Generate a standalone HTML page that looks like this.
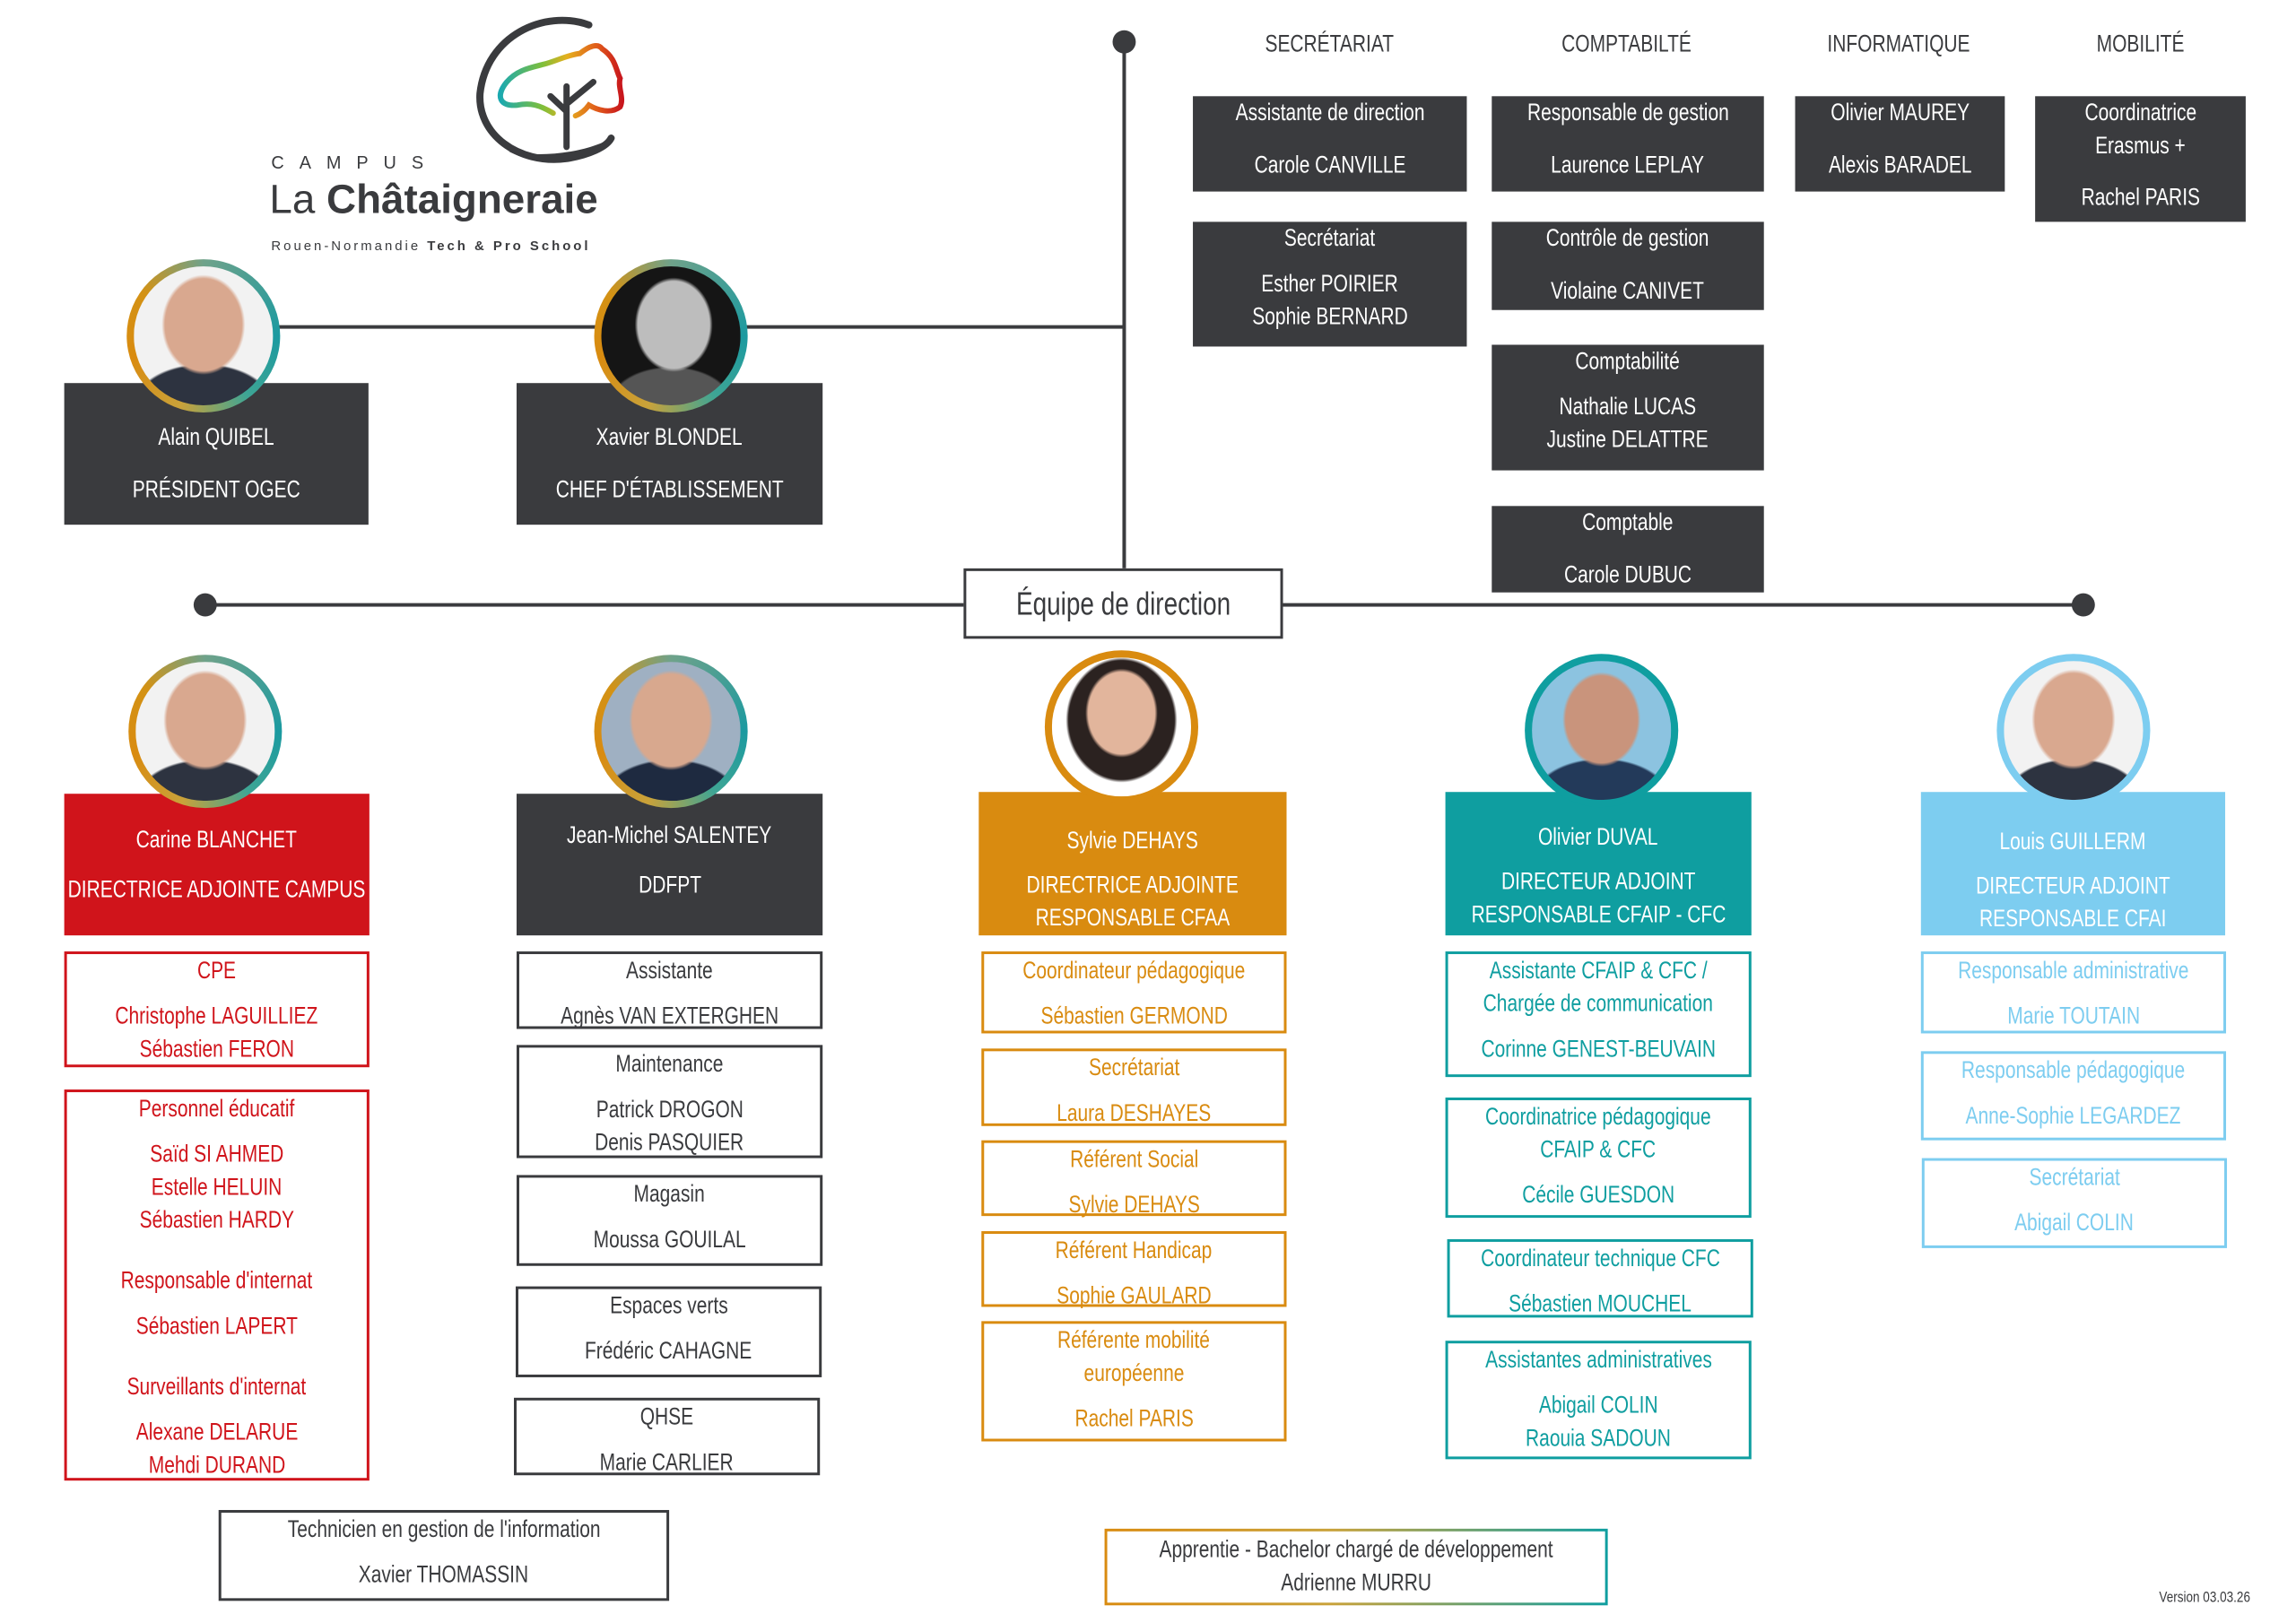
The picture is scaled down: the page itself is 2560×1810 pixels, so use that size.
<!DOCTYPE html>
<html><head><meta charset="utf-8">
<style>
*{margin:0;padding:0;box-sizing:border-box}
body{width:2560px;height:1810px;background:#fff;position:relative;overflow:hidden;font-family:"Liberation Sans",sans-serif;color:#3a3b3e}
#w{position:absolute;left:0;top:0;width:2560px;height:1810px;transform:scale(0.9948,0.9935);transform-origin:0 0}
.b{position:absolute;text-align:center}
.l{height:37px;line-height:37px;display:flex;justify-content:center;white-space:nowrap;font-size:27px}
.l span{display:inline-block;transform:scaleX(.78)}
.g{height:14px}
.dk{background:#3a3b3e;color:#fff}
.hl{position:absolute;background:#3a3b3e}
.dot{position:absolute;width:26px;height:26px;border-radius:50%;background:#3a3b3e}
.ring{position:absolute;width:172px;height:172px;border-radius:50%;padding:8px}
.ring div{width:100%;height:100%;border-radius:50%}
.grad{background:conic-gradient(from 0deg,#6fa28a,#1b9aa0 25%,#3ea595 40%,#c9a23a 55%,#d98b10 70%,#d39215 85%,#6fa28a)}
.face{background:radial-gradient(ellipse 30% 36% at 50% 42%,#d9a88f 0 92%,transparent 100%),radial-gradient(ellipse 50% 30% at 50% 100%,#2d3340 0 95%,transparent 100%),#f2f2f2}
.red{border:3px solid #d0141b;color:#d0141b}
.blk{border:3px solid #3a3b3e;color:#3a3b3e}
.org{border:3px solid #d98b10;color:#d98b10}
.tel{border:3px solid #0f9ea0;color:#0f9ea0}
.lb{border:3px solid #7dcdf0;color:#7dcdf0}
.hd{position:absolute;font-size:27px;white-space:nowrap;transform:translateX(-50%) scaleX(.78);color:#3a3b3e}
</style></head><body><div id="w">

<svg style="position:absolute;left:500px;top:0" width="240" height="200" viewBox="0 0 240 200">
<path d="M160 28 C110 10 45 40 38 105 C35 150 80 185 135 178 C160 174 180 165 185 155" fill="none" stroke="#3a3b3e" stroke-width="8" stroke-linecap="round"/>
<path d="M70 170 C110 190 160 180 185 155 C160 170 110 178 70 170Z" fill="#3a3b3e"/>
<defs><linearGradient id="tg" x1="0" x2="1"><stop offset="0" stop-color="#1ba9b0"/><stop offset=".35" stop-color="#7fbf3a"/><stop offset=".55" stop-color="#e5b01e"/><stop offset=".8" stop-color="#e05a1a"/><stop offset="1" stop-color="#c8161d"/></linearGradient></defs>
<path d="M120 127 C105 118 95 115 80 118 C60 120 55 108 68 92 C80 78 95 76 110 72 C125 68 135 62 150 60 C160 52 170 48 175 55 C190 65 190 78 195 88 C192 98 200 110 195 120 C185 128 170 124 160 118 C155 125 150 128 145 130" fill="none" stroke="url(#tg)" stroke-width="6" stroke-linecap="round"/>
<path d="M135 165 L135 97 M135 125 L117 108 M137 115 L165 92" stroke="#3a3b3e" stroke-width="7" stroke-linecap="round" fill="none"/>
</svg>
<div style="position:absolute;left:304px;top:172px;font-size:20px;letter-spacing:17px">CAMPUS</div>
<div style="position:absolute;left:302px;top:196px;font-size:46px;white-space:nowrap">La <b>Châtaigneraie</b></div>
<div style="position:absolute;left:304px;top:268px;font-size:15px;letter-spacing:3px;white-space:nowrap">Rouen-Normandie <b>Tech &amp; Pro School</b></div>

<div class="hl" style="left:1258px;top:48px;width:4px;height:590px"></div>
<div class="dot" style="left:1247px;top:34px"></div>
<div class="hl" style="left:300px;top:365px;width:960px;height:4px"></div>
<div class="hl" style="left:230px;top:677px;width:2105px;height:4px"></div>
<div class="dot" style="left:217px;top:666px"></div>
<div class="dot" style="left:2322px;top:666px"></div>
<div class="b" style="left:1080px;top:638px;width:358px;height:79px;background:#fff;border:3px solid #3a3b3e;display:flex;align-items:center;justify-content:center"><span style="font-size:36px;display:inline-block;transform:scaleX(.78);white-space:nowrap">Équipe de direction</span></div>

<div class="hd" style="left:1490px;top:34px">SECRÉTARIAT</div>
<div class="hd" style="left:1823px;top:34px">COMPTABILTÉ</div>
<div class="hd" style="left:2128px;top:34px">INFORMATIQUE</div>
<div class="hd" style="left:2399px;top:34px">MOBILITÉ</div>

<div class="b dk" style="left:1337px;top:108px;width:307px;height:107px"><div class="l"><span>Assistante de direction</span></div><div style="height:22px"></div><div class="l"><span>Carole CANVILLE</span></div></div>
<div class="b dk" style="left:1337px;top:249px;width:307px;height:140px"><div class="l"><span>Secrétariat</span></div><div class="g"></div><div class="l"><span>Esther POIRIER</span></div><div class="l"><span>Sophie BERNARD</span></div></div>
<div class="b dk" style="left:1672px;top:108px;width:305px;height:107px"><div class="l"><span>Responsable de gestion</span></div><div style="height:22px"></div><div class="l"><span>Laurence LEPLAY</span></div></div>
<div class="b dk" style="left:1672px;top:249px;width:305px;height:99px"><div class="l"><span>Contrôle de gestion</span></div><div style="height:22px"></div><div class="l"><span>Violaine CANIVET</span></div></div>
<div class="b dk" style="left:1672px;top:387px;width:305px;height:141px"><div class="l"><span>Comptabilité</span></div><div class="g"></div><div class="l"><span>Nathalie LUCAS</span></div><div class="l"><span>Justine DELATTRE</span></div></div>
<div class="b dk" style="left:1672px;top:568px;width:305px;height:97px"><div class="l"><span>Comptable</span></div><div style="height:22px"></div><div class="l"><span>Carole DUBUC</span></div></div>
<div class="b dk" style="left:2012px;top:108px;width:235px;height:107px"><div class="l"><span>Olivier MAUREY</span></div><div style="height:22px"></div><div class="l"><span>Alexis BARADEL</span></div></div>
<div class="b dk" style="left:2281px;top:108px;width:236px;height:141px"><div class="l"><span>Coordinatrice</span></div><div class="l"><span>Erasmus +</span></div><div style="height:21px"></div><div class="l"><span>Rachel PARIS</span></div></div>

<div class="b dk" style="left:72px;top:430px;width:341px;height:159px;padding-top:42px"><div class="l"><span>Alain QUIBEL</span></div><div style="height:22px"></div><div class="l"><span>PRÉSIDENT OGEC</span></div></div>
<div class="ring grad" style="left:142px;top:291px"><div class="face"></div></div>
<div class="b dk" style="left:579px;top:430px;width:343px;height:159px;padding-top:42px"><div class="l"><span>Xavier BLONDEL</span></div><div style="height:22px"></div><div class="l"><span>CHEF D'ÉTABLISSEMENT</span></div></div>
<div class="ring grad" style="left:666px;top:291px"><div style="background:radial-gradient(ellipse 28% 34% at 52% 42%,#bdbdbd 0 92%,transparent 100%),radial-gradient(ellipse 45% 28% at 50% 100%,#555 0 95%,transparent 100%),#151515"></div></div>

<div class="b" style="left:72px;top:891px;width:342px;height:159px;background:#d0141b;color:#fff;padding-top:33px"><div class="l"><span>Carine BLANCHET</span></div><div class="g" style="height:19px"></div><div class="l"><span>DIRECTRICE ADJOINTE CAMPUS</span></div></div>
<div class="ring grad" style="left:144px;top:735px"><div class="face"></div></div>
<div class="b dk" style="left:579px;top:891px;width:343px;height:159px;padding-top:28px"><div class="l"><span>Jean-Michel SALENTEY</span></div><div class="g" style="height:19px"></div><div class="l"><span>DDFPT</span></div></div>
<div class="ring grad" style="left:666px;top:735px"><div class="face" style="background:radial-gradient(ellipse 30% 36% at 50% 42%,#d8a88e 0 92%,transparent 100%),radial-gradient(ellipse 50% 30% at 50% 100%,#1e2a40 0 95%,transparent 100%),#9fb0c2"></div></div>
<div class="b" style="left:1097px;top:889px;width:345px;height:161px;background:#d98b10;color:#fff;padding-top:36px"><div class="l"><span>Sylvie DEHAYS</span></div><div class="g" style="height:13px"></div><div class="l"><span>DIRECTRICE ADJOINTE</span></div><div class="l"><span>RESPONSABLE CFAA</span></div></div>
<div class="ring" style="left:1171px;top:730px;background:#d98b10"><div class="face" style="background:radial-gradient(ellipse 26% 32% at 50% 40%,#e2b59c 0 92%,transparent 100%),radial-gradient(ellipse 40% 45% at 50% 45%,#2b2220 0 95%,transparent 100%),#fff"></div></div>
<div class="b" style="left:1620px;top:889px;width:343px;height:161px;background:#0f9ea0;color:#fff;padding-top:32px"><div class="l"><span>Olivier DUVAL</span></div><div class="g" style="height:13px"></div><div class="l"><span>DIRECTEUR ADJOINT</span></div><div class="l"><span>RESPONSABLE CFAIP - CFC</span></div></div>
<div class="ring" style="left:1709px;top:734px;background:#0f9ea0"><div class="face" style="background:radial-gradient(ellipse 28% 34% at 50% 42%,#c9947c 0 92%,transparent 100%),radial-gradient(ellipse 50% 30% at 50% 100%,#233a5a 0 95%,transparent 100%),#8cc3e0"></div></div>
<div class="b" style="left:2153px;top:889px;width:341px;height:161px;background:#7dcdf0;color:#fff;padding-top:37px"><div class="l"><span>Louis GUILLERM</span></div><div class="g" style="height:13px"></div><div class="l"><span>DIRECTEUR ADJOINT</span></div><div class="l"><span>RESPONSABLE CFAI</span></div></div>
<div class="ring" style="left:2238px;top:734px;background:#7dcdf0"><div class="face"></div></div>

<div class="b red" style="left:72px;top:1068px;width:342px;height:130px"><div class="l"><span>CPE</span></div><div class="g"></div><div class="l"><span>Christophe LAGUILLIEZ</span></div><div class="l"><span>Sébastien FERON</span></div></div>
<div class="b red" style="left:72px;top:1223px;width:342px;height:439px"><div class="l"><span>Personnel éducatif</span></div><div class="g"></div><div class="l"><span>Saïd SI AHMED</span></div><div class="l"><span>Estelle HELUIN</span></div><div class="l"><span>Sébastien HARDY</span></div><div style="height:31px"></div><div class="l"><span>Responsable d'internat</span></div><div class="g"></div><div class="l"><span>Sébastien LAPERT</span></div><div style="height:31px"></div><div class="l"><span>Surveillants d'internat</span></div><div class="g"></div><div class="l"><span>Alexane DELARUE</span></div><div class="l"><span>Mehdi DURAND</span></div></div>

<div class="b blk" style="left:579px;top:1068px;width:343px;height:87px"><div class="l"><span>Assistante</span></div><div class="g"></div><div class="l"><span>Agnès VAN EXTERGHEN</span></div></div>
<div class="b blk" style="left:579px;top:1173px;width:343px;height:127px"><div class="l"><span>Maintenance</span></div><div class="g"></div><div class="l"><span>Patrick DROGON</span></div><div class="l"><span>Denis PASQUIER</span></div></div>
<div class="b blk" style="left:579px;top:1319px;width:343px;height:102px"><div class="l"><span>Magasin</span></div><div class="g"></div><div class="l"><span>Moussa GOUILAL</span></div></div>
<div class="b blk" style="left:578px;top:1444px;width:343px;height:102px"><div class="l"><span>Espaces verts</span></div><div class="g"></div><div class="l"><span>Frédéric CAHAGNE</span></div></div>
<div class="b blk" style="left:576px;top:1569px;width:343px;height:87px"><div class="l"><span>QHSE</span></div><div class="g"></div><div class="l"><span>Marie CARLIER</span></div></div>
<div class="b blk" style="left:245px;top:1695px;width:505px;height:102px"><div class="l"><span>Technicien en gestion de l'information</span></div><div class="g"></div><div class="l"><span>Xavier THOMASSIN</span></div></div>

<div class="b org" style="left:1100px;top:1068px;width:342px;height:92px"><div class="l"><span>Coordinateur pédagogique</span></div><div class="g"></div><div class="l"><span>Sébastien GERMOND</span></div></div>
<div class="b org" style="left:1100px;top:1177px;width:342px;height:87px"><div class="l"><span>Secrétariat</span></div><div class="g"></div><div class="l"><span>Laura DESHAYES</span></div></div>
<div class="b org" style="left:1100px;top:1280px;width:342px;height:85px"><div class="l"><span>Référent Social</span></div><div class="g"></div><div class="l"><span>Sylvie DEHAYS</span></div></div>
<div class="b org" style="left:1100px;top:1382px;width:342px;height:85px"><div class="l"><span>Référent Handicap</span></div><div class="g"></div><div class="l"><span>Sophie GAULARD</span></div></div>
<div class="b org" style="left:1100px;top:1483px;width:342px;height:135px"><div class="l"><span>Référente mobilité</span></div><div class="l"><span>européenne</span></div><div class="g"></div><div class="l"><span>Rachel PARIS</span></div></div>

<div class="b" style="left:1238px;top:1716px;width:564px;height:86px;padding:3px;background:linear-gradient(90deg,#d98b10,#c9a23a 45%,#0f9ea0)"><div style="background:#fff;height:100%;padding-top:2px"><div class="l"><span>Apprentie - Bachelor chargé de développement</span></div><div class="l"><span>Adrienne MURRU</span></div></div></div>

<div class="b tel" style="left:1620px;top:1068px;width:343px;height:141px"><div class="l"><span>Assistante CFAIP &amp; CFC /</span></div><div class="l"><span>Chargée de communication</span></div><div class="g"></div><div class="l"><span>Corinne GENEST-BEUVAIN</span></div></div>
<div class="b tel" style="left:1620px;top:1232px;width:343px;height:135px"><div class="l"><span>Coordinatrice pédagogique</span></div><div class="l"><span>CFAIP &amp; CFC</span></div><div class="g"></div><div class="l"><span>Cécile GUESDON</span></div></div>
<div class="b tel" style="left:1622px;top:1391px;width:343px;height:88px"><div class="l"><span>Coordinateur technique CFC</span></div><div class="g"></div><div class="l"><span>Sébastien MOUCHEL</span></div></div>
<div class="b tel" style="left:1620px;top:1505px;width:343px;height:133px"><div class="l"><span>Assistantes administratives</span></div><div class="g"></div><div class="l"><span>Abigail COLIN</span></div><div class="l"><span>Raouia SADOUN</span></div></div>

<div class="b lb" style="left:2153px;top:1068px;width:342px;height:92px"><div class="l"><span>Responsable administrative</span></div><div class="g"></div><div class="l"><span>Marie TOUTAIN</span></div></div>
<div class="b lb" style="left:2153px;top:1180px;width:342px;height:100px"><div class="l"><span>Responsable pédagogique</span></div><div class="g"></div><div class="l"><span>Anne-Sophie LEGARDEZ</span></div></div>
<div class="b lb" style="left:2154px;top:1300px;width:342px;height:101px"><div class="l"><span>Secrétariat</span></div><div class="g"></div><div class="l"><span>Abigail COLIN</span></div></div>

<div style="position:absolute;left:2420px;top:1783px;font-size:17px;white-space:nowrap;transform:scaleX(.8);transform-origin:left">Version 03.03.26</div>
</div></body></html>
